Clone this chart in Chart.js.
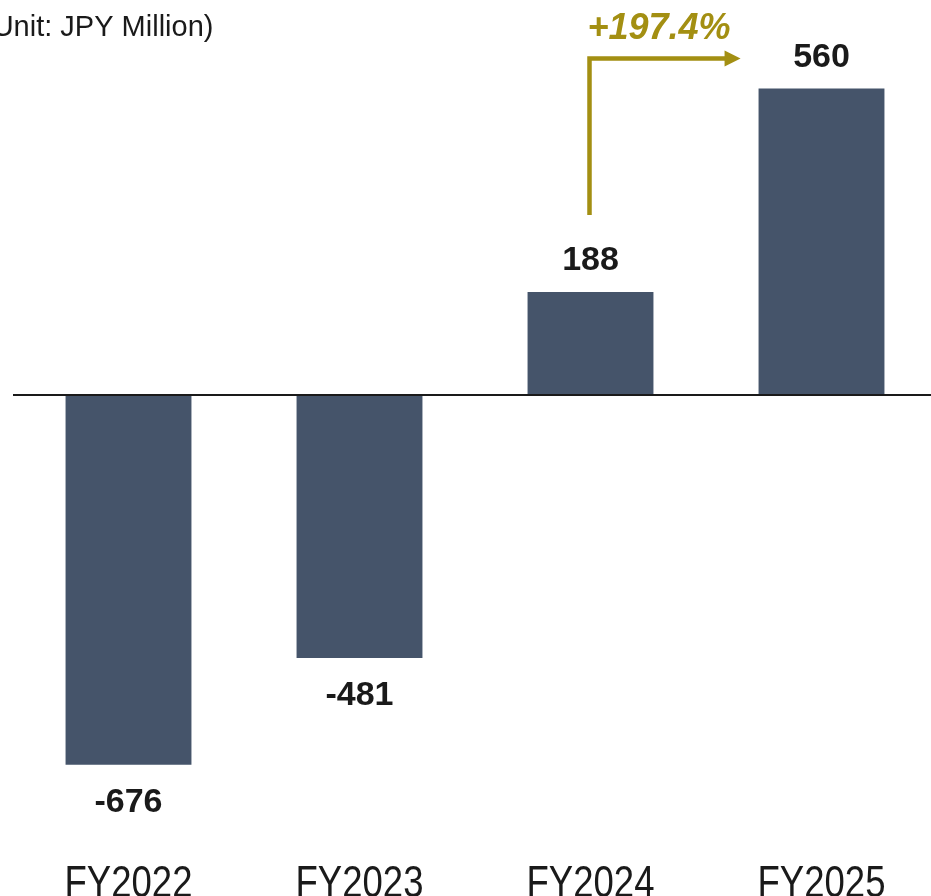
<!DOCTYPE html>
<html lang="en">

<head>
    <meta charset="UTF-8">
    <title>Operating Income</title>
    <style>
        html, body { margin: 0; padding: 0; background: #fff; overflow: hidden; }
        canvas { display: block; }
    </style>
</head>

<body>
    <canvas id="chart1" width="937" height="896"></canvas>
</body>

</html>
<script src="https://cdn.jsdelivr.net/npm/chart.js"></script>
<script>
    // data
    var anos = ['FY2022', 'FY2023', 'FY2024', 'FY2025'];
    var valores = [-676, -481, 188, 560];
    var unidade = '(Unit: JPY Million)';
    var crescimento = '+197.4%';

    var corBarra = '#45546a';
    var corOuro = '#a38f12';
    var corTexto = '#1a1a1a';

    // value above/below each bar, narrow year labels, growth arrow and unit note
    const rotulos = {
        id: 'rotulos',
        afterDraw(chart) {
            const c = chart.ctx;
            const barras = chart.getDatasetMeta(0).data;
            const eixoX = chart.scales.x;
            c.save();

            c.font = 'bold 34px "Liberation Sans", Arial, sans-serif';
            c.fillStyle = corTexto;
            c.textAlign = 'center';
            c.textBaseline = 'middle';
            barras.forEach((b, i) => {
                var v = valores[i];
                var y = v >= 0 ? b.y - 31 : b.y + 38;
                c.fillText(String(v), b.x, y);
            });

            // year labels, squeezed horizontally
            c.font = '44px "Liberation Sans", Arial, sans-serif';
            c.textBaseline = 'alphabetic';
            eixoX.getLabels().forEach((txt, i) => {
                c.save();
                c.translate(eixoX.getPixelForTick(i), chart.chartArea.bottom + 48);
                c.scale(0.83, 1);
                c.fillText(txt, 0, 0);
                c.restore();
            });

            // arrow from FY2024 to FY2025
            var b1 = barras[2], b2 = barras[3];
            var x0 = b1.x - 1;
            var yBaixo = b1.y - 77;
            var yCima = b2.y - 30;
            var ponta = b2.x - b2.width / 2 - 18;
            c.strokeStyle = corOuro;
            c.fillStyle = corOuro;
            c.lineWidth = 4.5;
            c.beginPath();
            c.moveTo(x0, yBaixo);
            c.lineTo(x0, yCima);
            c.lineTo(ponta - 12, yCima);
            c.stroke();
            c.beginPath();
            c.moveTo(ponta, yCima);
            c.lineTo(ponta - 16, yCima - 8);
            c.lineTo(ponta - 16, yCima + 8);
            c.closePath();
            c.fill();

            c.font = 'italic bold 36px "Liberation Sans", Arial, sans-serif';
            c.textAlign = 'left';
            c.fillText(crescimento, x0 - 2, yCima - 20);

            c.font = '29px "Liberation Sans", Arial, sans-serif';
            c.fillStyle = corTexto;
            c.fillText(unidade, -17, 36);

            c.restore();
        }
    };

    const ctx = document.getElementById('chart1');

    chart1 = new Chart(ctx, {
        type: 'bar',
        data: {
            labels: anos,
            datasets: [{
                data: valores,
                backgroundColor: corBarra,
                categoryPercentage: 1,
                barPercentage: 0.545
            }]
        },
        options: {
            responsive: false,
            animation: false,
            layout: { padding: { left: 13, right: 0, top: 0, bottom: 39 } },
            plugins: {
                legend: { display: false },
                tooltip: { enabled: false }
            },
            scales: {
                x: {
                    grid: { display: false },
                    border: { display: false },
                    ticks: { display: false }
                },
                y: {
                    min: -830,
                    max: 722,
                    afterBuildTicks: (axis) => { axis.ticks = [{ value: 0 }]; },
                    ticks: { display: false },
                    border: { display: false },
                    grid: {
                        color: (c) => c.tick.value === 0 ? corTexto : 'transparent',
                        lineWidth: 2,
                        drawTicks: false,
                        z: 1
                    }
                }
            }
        },
        plugins: [rotulos]
    });
</script>
